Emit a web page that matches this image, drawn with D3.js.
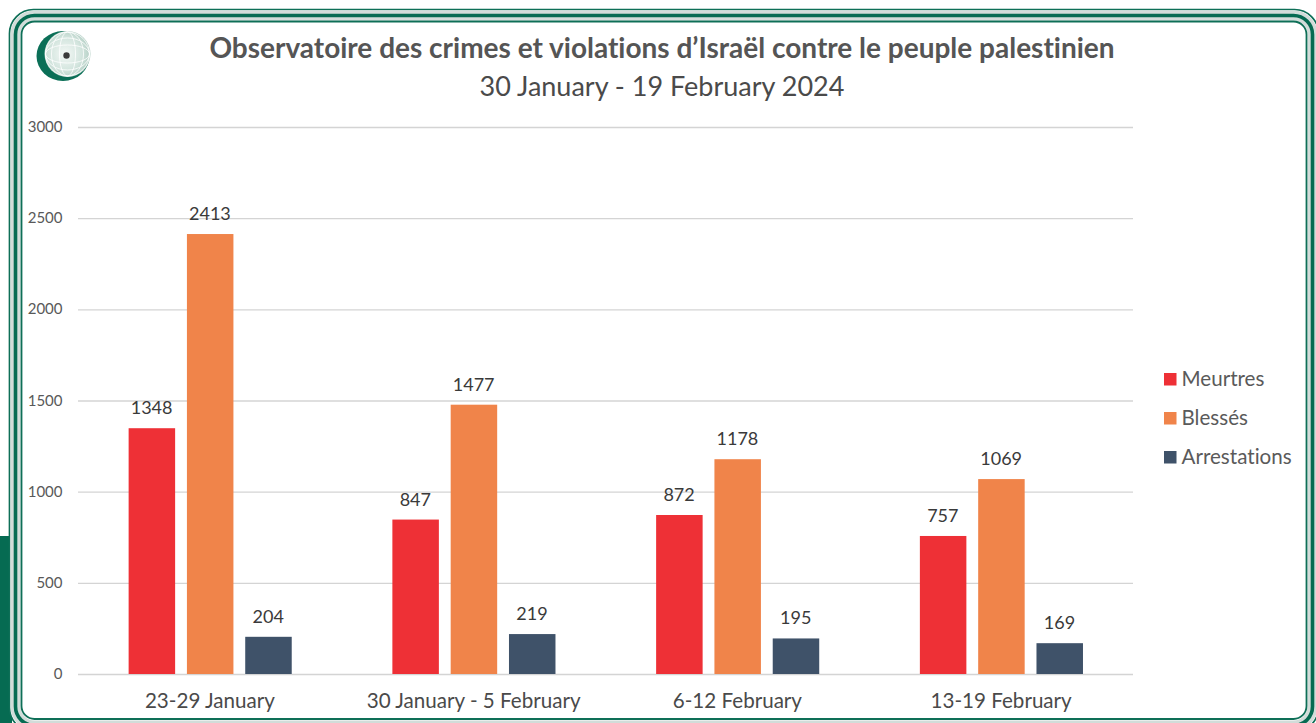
<!DOCTYPE html>
<html><head><meta charset="utf-8">
<script src="https://cdn.jsdelivr.net/npm/d3@7"></script>
<style>html,body{margin:0;padding:0;background:#fff}svg{display:block}text{font-family:Lato,sans-serif;font-variant-ligatures:none}</style>
</head><body><svg id="c" width="1316" height="723"></svg>
<script>
const categories=["23-29 January","30 January - 5 February","6-12 February","13-19 February"];
const seriesNames=["Meurtres","Blessés","Arrestations"];
const meurtres=[1348,847,872,757];
const blesses=[2413,1477,1178,1069];
const arrestations=[204,219,195,169];
const seriesValues=[meurtres,blesses,arrestations];
const colors=["#EE3036","#F0844A","#3F5269"];
const yTicks=[0,500,1000,1500,2000,2500,3000];
const title="Observatoire des crimes et violations d’Israël contre le peuple palestinien";
const subtitle="30 January - 19 February 2024";

const svg=d3.select("#c");
const defs=svg.append("defs");
const rg=defs.append("radialGradient").attr("id","globe").attr("cx","45%").attr("cy","50%").attr("r","55%");
rg.append("stop").attr("offset","0%").attr("stop-color","#F4F8F6");
rg.append("stop").attr("offset","65%").attr("stop-color","#D3E5DE");
rg.append("stop").attr("offset","100%").attr("stop-color","#B4CFC5");

svg.append("rect").attr("x",0).attr("y",536).attr("width",12).attr("height",187).attr("fill","#066B52");
svg.append("rect").attr("x",9.5).attr("y",9.5).attr("width",1309).attr("height",722).attr("rx",24).attr("fill","#fff").attr("stroke","#0E6F57").attr("stroke-width",1.7);
svg.append("rect").attr("x",15.5).attr("y",15.5).attr("width",1297).attr("height",710).attr("rx",19).attr("fill","none").attr("stroke","#d2dcd9").attr("stroke-width",10);
svg.append("rect").attr("x",15.5).attr("y",15.5).attr("width",1297).attr("height",710).attr("rx",19).attr("fill","none").attr("stroke","#066B52").attr("stroke-width",3.6);
svg.append("rect").attr("x",21.5).attr("y",21.5).attr("width",1285).attr("height",697.5).attr("rx",13).attr("fill","#fff").attr("stroke","#0E6F57").attr("stroke-width",1.8);

// logo
const logo=svg.append("g");
logo.append("ellipse").attr("cx",63).attr("cy",56).attr("rx",26.5).attr("ry",25).attr("fill","#0B6F57");
logo.append("circle").attr("cx",67.5).attr("cy",54).attr("r",23).attr("fill","url(#globe)");
[9,16,22].forEach(ry=>logo.append("ellipse").attr("cx",67.5).attr("cy",54).attr("rx",22).attr("ry",ry).attr("fill","none").attr("stroke","#fff").attr("stroke-opacity",.8).attr("stroke-width",1));
[8,16].forEach(rx=>logo.append("ellipse").attr("cx",67.5).attr("cy",54).attr("rx",rx).attr("ry",22).attr("fill","none").attr("stroke","#fff").attr("stroke-opacity",.8).attr("stroke-width",1));
logo.append("circle").attr("cx",66.5).attr("cy",55.5).attr("r",3.2).attr("fill","#3a3a3a");

const x0=d3.scaleBand().domain(categories).range([78,1133]).paddingInner(0).paddingOuter(0);
const y=d3.scaleLinear().domain([0,3000]).range([674,127]);
const barW=46.5, step=58.3;
const x1=d3.scaleBand().domain(d3.range(3)).range([-step*1.5,step*1.5]);

const gridAxis=d3.axisLeft(y).tickValues(yTicks).tickSize(-1055).tickPadding(14).tickFormat(d3.format("d"));
const gy=svg.append("g").attr("transform","translate(78,0)").call(gridAxis);
gy.select(".domain").remove();
gy.selectAll(".tick line").attr("stroke","#D4D4D4").attr("stroke-width",1.4);
gy.selectAll(".tick text").attr("fill","#595959").attr("font-size",15).attr("x",-15.5).attr("dy","0.3em");

const gx=svg.append("g").attr("transform","translate(0,674)").call(d3.axisBottom(x0).tickSize(0).tickPadding(19));
gx.select(".domain").remove();
gx.selectAll(".tick text").attr("fill","#4A4A4A").attr("font-size",20.6);

const groups=svg.append("g").selectAll("g").data(categories).join("g")
 .attr("transform",d=>`translate(${x0(d)+x0.bandwidth()/2},0)`);
seriesValues.forEach((vals,s)=>{
  groups.append("rect")
   .attr("x",(d,i)=>x1(s)+x1.bandwidth()/2-barW/2+0.3)
   .attr("width",barW)
   .attr("y",(d,i)=>y(vals[i]))
   .attr("height",(d,i)=>674-y(vals[i]))
   .attr("fill",colors[s]);
  groups.append("text")
   .attr("x",x1(s)+x1.bandwidth()/2)
   .attr("y",(d,i)=>y(vals[i])-14)
   .attr("text-anchor","middle").attr("font-size",18).attr("fill","#3A3A3A")
   .text((d,i)=>vals[i]);
});

svg.append("text").attr("x",662).attr("y",58).attr("text-anchor","middle").attr("font-size",28).attr("font-weight",700).attr("fill","#555").text(title);
svg.append("text").attr("x",662).attr("y",96).attr("text-anchor","middle").attr("font-size",27).attr("fill","#4A4A4A").text(subtitle);

const ly=d3.scalePoint().domain(seriesNames).range([379,457]);
const leg=svg.append("g").selectAll("g").data(seriesNames).join("g").attr("transform",d=>`translate(1164,${ly(d)})`);
leg.append("rect").attr("y",-6).attr("width",12.5).attr("height",12.5).attr("fill",(d,i)=>colors[i]);
leg.append("text").attr("x",17.5).attr("y",7).attr("font-size",20.6).attr("fill","#5A5A5A").text(d=>d);
</script></body></html>
